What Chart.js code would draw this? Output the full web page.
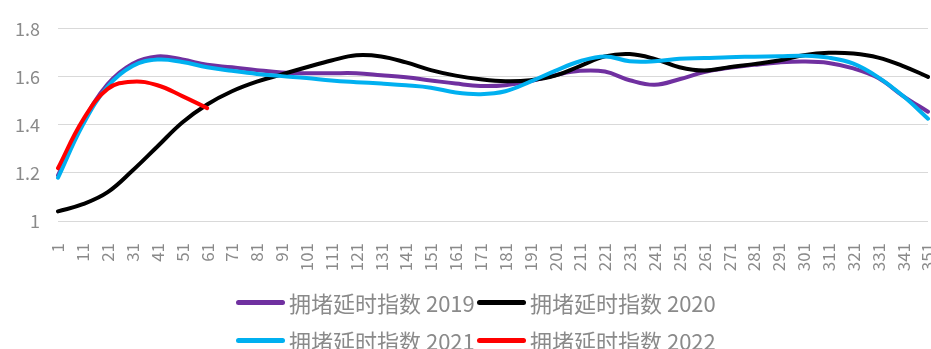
<!DOCTYPE html>
<html>
<head>
<meta charset="utf-8">
<script src="https://cdn.jsdelivr.net/npm/chart.js@4"></script>
<style>
  html, body { margin: 0; padding: 0; background: #fff; }
  #wrap { position: relative; width: 931px; height: 349px; overflow: hidden; }
  #legend {
    position: absolute; left: 236px; top: 283px; width: 500px;
    display: flex; flex-wrap: wrap;
    font-family: "Noto Sans CJK SC", sans-serif; font-size: 22px; color: #8a8a8a;
  }
  #legend .item { display: flex; align-items: center; height: 38px; width: 241px; white-space: nowrap; }
  #legend .swatch { width: 49px; height: 5px; border-radius: 3px; margin-right: 4px; flex: none; }
</style>
</head>
<body>
<div id="wrap">
  <canvas id="myChart" width="931" height="349"></canvas>
  <div id="legend"></div>
</div>
<script>
let days = [1, 11, 21, 31, 41, 51, 61, 71, 81, 91, 101, 111, 121, 131, 141, 151, 161, 171,
            181, 191, 201, 211, 221, 231, 241, 251, 261, 271, 281, 291, 301, 311, 321, 331, 341, 351];

let names = ['拥堵延时指数 2019', '拥堵延时指数 2020', '拥堵延时指数 2021', '拥堵延时指数 2022'];
let colors = ['rgb(112, 48, 160)', 'rgb(0, 0, 0)', 'rgb(0, 176, 240)', 'rgb(255, 0, 0)'];

let idx2019 = [1.19, 1.41, 1.57, 1.655, 1.685, 1.672, 1.65, 1.64, 1.628, 1.618, 1.615, 1.615,
               1.615, 1.607, 1.598, 1.585, 1.572, 1.562, 1.565, 1.582, 1.607, 1.625, 1.622, 1.586,
               1.567, 1.59, 1.62, 1.638, 1.65, 1.66, 1.664, 1.658, 1.635, 1.595, 1.52, 1.455];
let idx2020 = [1.04, 1.07, 1.12, 1.21, 1.31, 1.41, 1.485, 1.54, 1.58, 1.61, 1.64, 1.668,
               1.69, 1.685, 1.66, 1.628, 1.605, 1.59, 1.582, 1.586, 1.605, 1.645, 1.685, 1.695,
               1.675, 1.64, 1.626, 1.64, 1.653, 1.668, 1.69, 1.70, 1.697, 1.68, 1.645, 1.60];
let idx2021 = [1.18, 1.40, 1.56, 1.645, 1.672, 1.662, 1.64, 1.625, 1.612, 1.603, 1.595, 1.585,
               1.578, 1.572, 1.565, 1.555, 1.535, 1.528, 1.54, 1.58, 1.625, 1.665, 1.685, 1.665,
               1.665, 1.675, 1.678, 1.682, 1.684, 1.686, 1.688, 1.68, 1.655, 1.598, 1.52, 1.426];
let idx2022 = [1.22, 1.42, 1.55, 1.58, 1.565, 1.52, 1.47];

let yTicks = [1, 1.2, 1.4, 1.6, 1.8];

let series = [idx2019, idx2020, idx2021, idx2022];
let textColor = 'rgb(138, 138, 138)';

let datasets = series.map(function(d, i) {
    return {
        label: names[i],
        data: d,
        borderColor: colors[i],
        backgroundColor: colors[i],
        order: series.length - i
    };
});

var ctx = document.getElementById("myChart").getContext("2d");
let myChart = new Chart(ctx, {
    type: 'line',
    data: {
        labels: days,
        datasets: datasets
    },
    options: {
        responsive: false,
        animation: false,
        layout: { padding: { top: 26, right: 3, bottom: 78, left: 0 } },
        elements: {
            point: { radius: 0 },
            line: { tension: 0.4, borderWidth: 4, borderCapStyle: 'round', fill: false }
        },
        plugins: {
            legend: { display: false },
            tooltip: { enabled: false }
        },
        scales: {
            x: {
                grid: { display: false },
                border: { display: false },
                ticks: {
                    autoSkip: false,
                    minRotation: 90,
                    maxRotation: 90,
                    padding: 14,
                    color: textColor,
                    font: { family: 'Noto Sans CJK SC', size: 17 }
                },
                afterFit: function(s) {
                    s.height = 50;
                    s.paddingLeft = 0;
                    s.paddingRight = 0;
                }
            },
            y: {
                min: yTicks[0],
                max: yTicks[yTicks.length - 1],
                afterBuildTicks: function(s) {
                    s.ticks = yTicks.map(function(v) { return { value: v }; });
                },
                grid: { color: 'rgb(217, 217, 217)', lineWidth: 1, drawTicks: false },
                border: { display: false },
                ticks: {
                    padding: 18,
                    color: textColor,
                    font: { family: 'Noto Sans CJK SC', size: 18 },
                    callback: function(v) { return String(v); }
                },
                afterFit: function(s) {
                    s.width = 58;
                }
            }
        }
    }
});

let legend = document.getElementById('legend');
names.forEach(function(n, i) {
    let item = document.createElement('div');
    item.className = 'item';
    let sw = document.createElement('span');
    sw.className = 'swatch';
    sw.style.background = colors[i];
    let txt = document.createElement('span');
    txt.textContent = n;
    item.appendChild(sw);
    item.appendChild(txt);
    legend.appendChild(item);
});
</script>
</body>
</html>
